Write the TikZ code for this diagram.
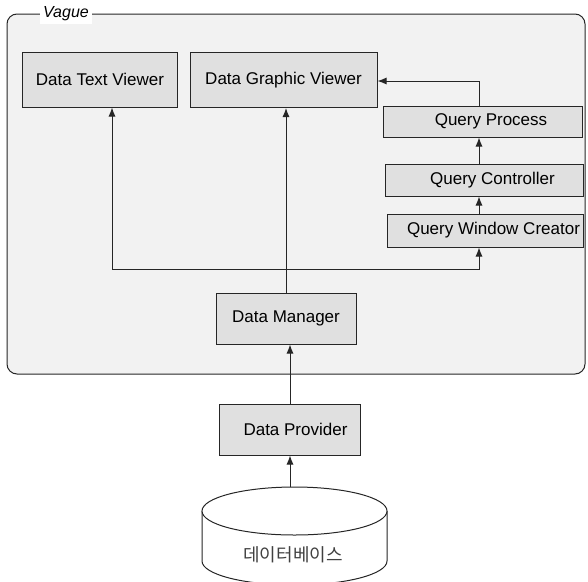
\documentclass[tikz,border=0pt]{standalone}
\usepackage{fontspec}
\setmainfont{Liberation Sans}
\newfontfamily\krfont{Noto Sans CJK KR}
\usetikzlibrary{arrows.meta}
\newcommand{\boxFont}{\fontsize{17}{20}\selectfont}
\newcommand{\padLeft}{\hspace*{17pt}}

\begin{document}
\begin{tikzpicture}[x=1pt, y=-1pt,
    module/.style={draw=black!85, line width=1pt, fill=black!12, font=\boxFont, inner sep=0pt},
    link/.style={draw=black!85, line width=1pt, -{Latex[length=9pt,width=7pt]}}]
         \clip (0,0) rectangle (588,581);
         \fill[white] (0,0) rectangle (588,581);

         % frame of the Vague application
         \draw[black!85, line width=1pt, fill=black!5, rounded corners=10pt] (7,14) rectangle (585,374);
         \node (vague) [fill=white, inner sep=3pt, font=\fontsize{16}{18}\selectfont\itshape] at (66,14) {Vague};

         \node (dtv) [module, minimum width=155pt, minimum height=55pt] at (100,79.5) {Data Text Viewer};
         \node (dgv) [module, minimum width=187pt, minimum height=55pt] at (283.5,80) {Data Graphic Viewer};
         \node (qp) [module, minimum width=199pt, minimum height=31pt] at (482.5,121.5) {\padLeft Query Process};
         \node (qc) [module, minimum width=198pt, minimum height=32pt] at (484,180) {\padLeft Query Controller};
         \node (qwc) [module, minimum width=196pt, minimum height=33pt] at (485,230.5) {\padLeft Query Window Creator};
         \node (dm) [module, minimum width=140pt, minimum height=51pt] at (286,318.5) {Data Manager};
         \node (dp) [module, minimum width=141pt, minimum height=51pt] at (289.5,429.5) {\hspace*{12pt}Data Provider};

         % database
         \draw[black!85, line width=1pt, fill=white] (202,511) -- (202,561) arc[start angle=180, end angle=0, x radius=92.5, y radius=24] -- (387,511);
         \draw[black!85, line width=1pt, fill=white] (294.5,511) ellipse[x radius=92.5, y radius=24];
         \node (db) [font=\krfont\fontsize{18}{21}\selectfont, text=black!75] at (293,555) {데이터베이스};
         \coordinate (dbtop) at (290,487);

         \coordinate (split) at (286,269);
         \coordinate (qturn) at (479,81);

         \draw[link] (dbtop) -- (dp.south -| dbtop);
         \draw[link] (dp.north -| dbtop) -- (dm.south -| dbtop);
         \draw[link] (dm.north -| split) -- (dgv.south -| split);
         \draw[link] (split) -- (112,269) -- (dtv.south -| 112,0);
         \draw[link] (split) -| (qwc.south -| qturn);
         \draw[link] (qwc.north -| qturn) -- (qc.south -| qturn);
         \draw[link] (qc.north -| qturn) -- (qp.south -| qturn);
         \draw[link] (qp.north -| qturn) -- (qturn) -- (dgv.east |- qturn);
      \end{tikzpicture}
\end{document}
